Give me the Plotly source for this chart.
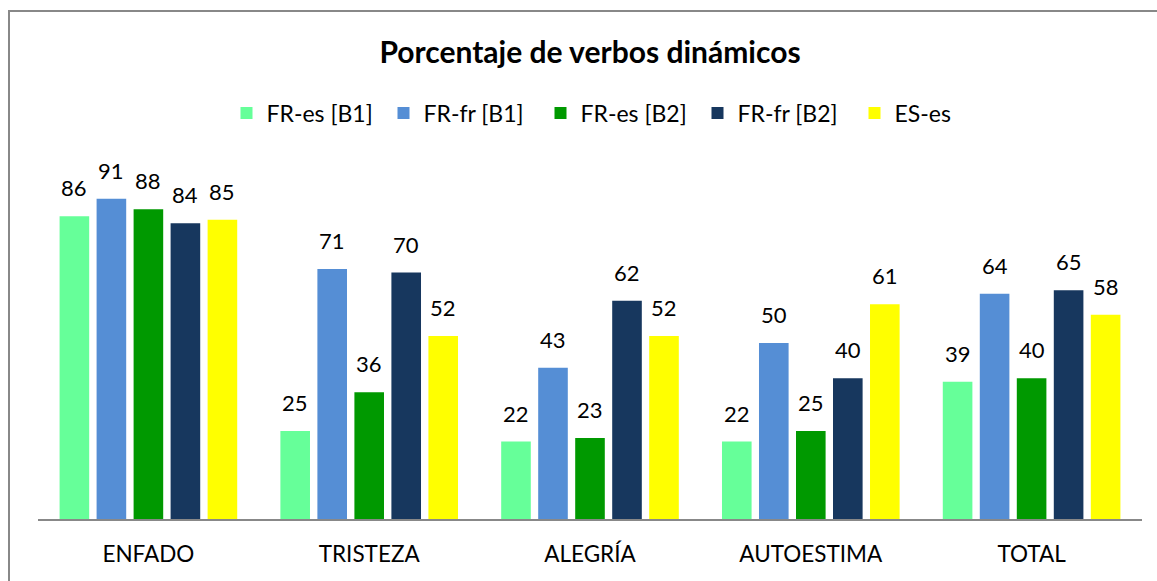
import plotly.graph_objects as go

categories = ["ENFADO", "TRISTEZA", "ALEGRÍA", "AUTOESTIMA", "TOTAL"]
series_names = ["FR-es [B1]", "FR-fr [B1]", "FR-es [B2]", "FR-fr [B2]", "ES-es"]
fr_es_b1 = [86, 25, 22, 22, 39]
fr_fr_b1 = [91, 71, 43, 50, 64]
fr_es_b2 = [88, 36, 23, 25, 40]
fr_fr_b2 = [84, 70, 62, 40, 65]
es_es = [85, 52, 52, 61, 58]
series_values = [fr_es_b1, fr_fr_b1, fr_es_b2, fr_fr_b2, es_es]
colors = ["#66FF99", "#558ED5", "#009900", "#17375E", "#FFFF00"]

FONT = "Lato"

fig = go.Figure()
for name, vals, col in zip(series_names, series_values, colors):
    fig.add_trace(go.Bar(
        x=categories, y=vals, name=name,
        marker=dict(color=col, line=dict(width=0)),
    ))

# value labels
slot = 37
annotations = []
for i, vals in enumerate(series_values):
    for c, v in zip(categories, vals):
        annotations.append(dict(
            x=c, y=v, xref="x", yref="y", text=str(v), showarrow=False,
            xshift=(i - 2) * slot, yshift=13, yanchor="bottom",
            font=dict(family=FONT, size=22, color="#000000"),
        ))

fig.update_layout(
    width=1157, height=581,
    margin=dict(l=38, r=15, t=167, b=62),
    paper_bgcolor="white", plot_bgcolor="white",
    barmode="group", bargap=0.162, bargroupgap=0.2,
    title=dict(text="<b>Porcentaje de verbos dinámicos</b>",
               x=0.5, xref="paper", xanchor="center", y=1 - 52 / 581, yanchor="middle",
               font=dict(family=FONT, size=30, color="#000000")),
    legend=dict(orientation="h", x=0.5 + 29 / 1104, xanchor="center", y=1 - 113 / 581,
                yref="container", yanchor="middle",
                font=dict(family=FONT, size=23, color="#000000"),
                entrywidth=112, entrywidthmode="pixels",
                bgcolor="rgba(0,0,0,0)"),
    xaxis=dict(showline=True, linecolor="#888888", linewidth=2,
               showgrid=False, ticks="", ticklabelstandoff=14,
               tickfont=dict(family=FONT, size=22.5, color="#000000")),
    yaxis=dict(range=[0, 100], visible=False, showgrid=False, zeroline=False),
    annotations=annotations,
    shapes=[dict(type="rect", xref="paper", yref="paper",
                 x0=(9 - 38) / 1104, x1=1.2, y0=-0.5, y1=(519 - 11) / 352,
                 line=dict(color="#888888", width=2), layer="below")],
)

fig.write_html("out.html", config={"displayModeBar": False},
               post_script="document.body.style.margin='0';")
